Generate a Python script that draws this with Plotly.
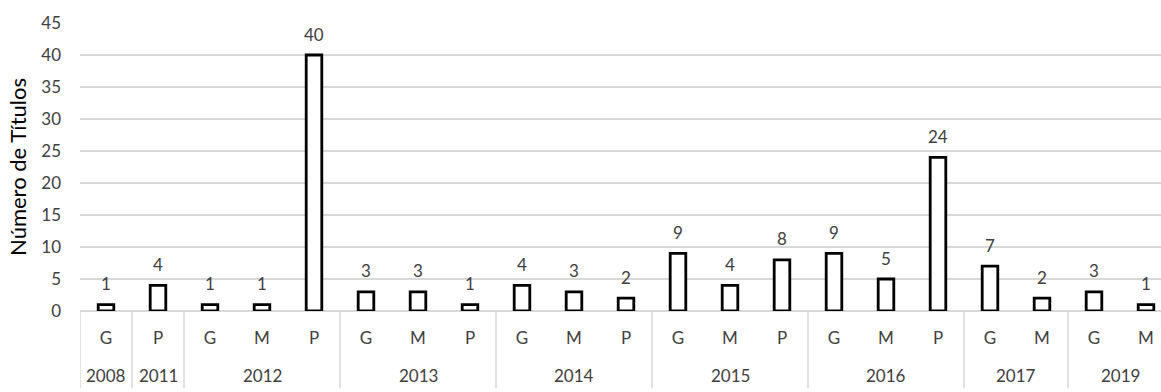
import plotly.graph_objects as go

# Titles per year and level (G, M, P)
years = ["2008", "2011", "2012", "2012", "2012", "2013", "2013", "2013",
         "2014", "2014", "2014", "2015", "2015", "2015", "2016", "2016", "2016",
         "2017", "2017", "2019", "2019"]
levels = ["G", "P", "G", "M", "P", "G", "M", "P", "G", "M", "P",
          "G", "M", "P", "G", "M", "P", "G", "M", "G", "M"]
counts = [1, 4, 1, 1, 40, 3, 3, 1, 4, 3, 2, 9, 4, 8, 9, 5, 24, 7, 2, 3, 1]
y_ticks = [0, 5, 10, 15, 20, 25, 30, 35, 40, 45]

FONT = "Lato, 'Open Sans', sans-serif"
TEXT = "#404040"
GRID = "#d9d9d9"
FS = 17

xs = list(range(len(counts)))

fig = go.Figure(go.Bar(
    x=xs, y=counts, width=0.3,
    marker=dict(color="white", line=dict(color="black", width=2.8)),
    showlegend=False,
))

# value labels above each bar
for x, v in zip(xs, counts):
    fig.add_annotation(x=x, y=v, xref="x", yref="y", text=str(v),
                       showarrow=False, yanchor="middle", yshift=21,
                       font=dict(family=FONT, size=FS, color=TEXT))

# year groups: separators and centred labels
groups = []
for i, yr in enumerate(years):
    if groups and groups[-1][0] == yr:
        groups[-1][2] = i
    else:
        groups.append([yr, i, i])

sep_bottom = -(388 - 310.7) / 288
for yr, a, b in groups:
    fig.add_shape(type="line", xref="x", yref="paper", x0=a - 0.5, x1=a - 0.5,
                  y0=0, y1=sep_bottom, line=dict(color=GRID, width=1.5))
    fig.add_annotation(x=(a + b) / 2, y=0, xref="x", yref="paper", text=yr,
                       showarrow=False, yanchor="middle", yshift=-64,
                       font=dict(family=FONT, size=FS, color=TEXT))

fig.update_layout(
    width=1161, height=392,
    margin=dict(l=80, r=0, t=23, b=81, pad=0),
    plot_bgcolor="white", paper_bgcolor="white",
    xaxis=dict(range=[-0.5, -0.5 + 1081 / 52], tickvals=xs, ticktext=levels,
               showgrid=False, zeroline=False, showline=False, ticks="",
               ticklabelstandoff=15,
               tickfont=dict(family=FONT, size=FS, color=TEXT)),
    yaxis=dict(range=[0, 45], tickvals=y_ticks, showgrid=True,
               gridcolor=GRID, gridwidth=1.5, zeroline=True,
               zerolinecolor=GRID, zerolinewidth=1.5, showline=False,
               ticks="", ticklabelstandoff=18,
               tickfont=dict(family=FONT, size=FS, color=TEXT),
               title=dict(text="Número de Títulos", standoff=8,
                          font=dict(family=FONT, size=22, color="black"))),
)

fig.write_html("out.html")
